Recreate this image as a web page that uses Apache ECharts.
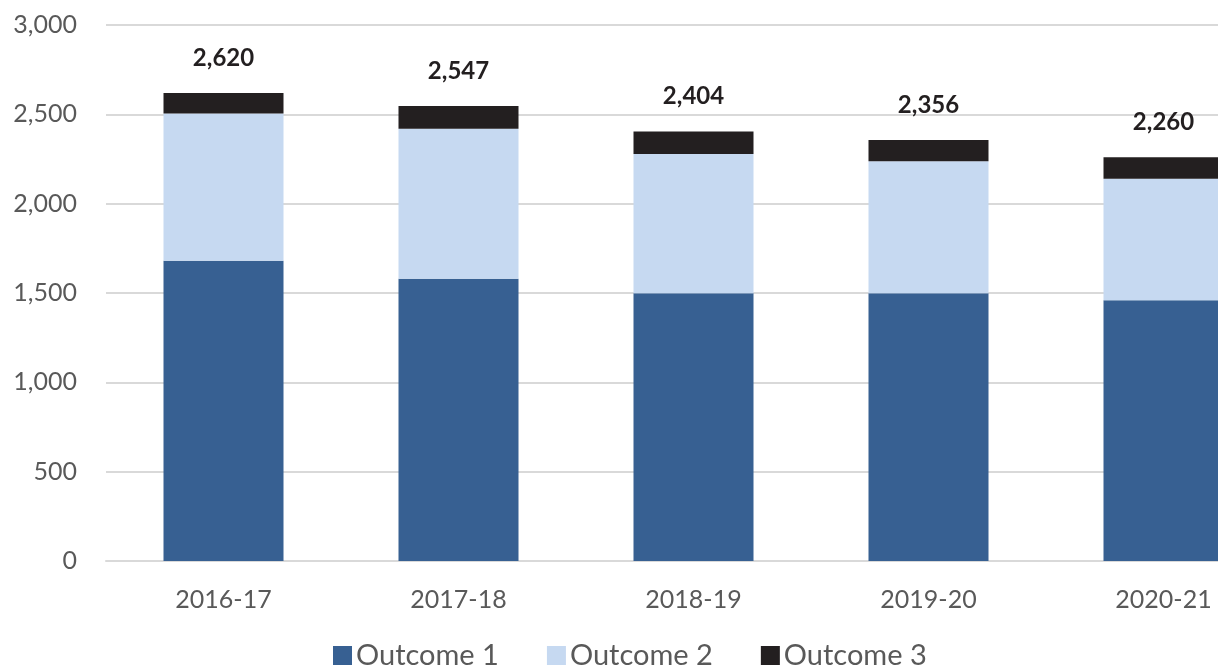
<!DOCTYPE html>
<html>
<head>
<meta charset="utf-8">
<script src="https://cdn.jsdelivr.net/npm/echarts@6/dist/echarts.min.js"></script>
<style>
html,body{margin:0;padding:0;background:#fff;}
#chart{width:1218px;height:668px;}
</style>
</head>
<body>
<div id="chart"></div>
<script>
const categories = ['2016-17','2017-18','2018-19','2019-20','2020-21'];
const outcome1 = [1680, 1580, 1498, 1498, 1460];
const outcome2 = [825, 840, 780, 740, 680];
const outcome3 = [115, 127, 126, 118, 120];
const totals = [2620, 2547, 2404, 2356, 2260];
const yTicks = [0, 500, 1000, 1500, 2000, 2500, 3000];

const FONT = 'Lato';
const chart = echarts.init(document.getElementById('chart'), null, {renderer:'canvas'});
const fmt = v => v.toLocaleString('en-US');

chart.setOption({
  animation:false,
  textStyle:{fontFamily:FONT},
  grid:{left:106, width:1175, top:25, height:536, containLabel:false, outerBoundsMode:'none'},
  legend:{
    top:641, left:333, padding:0, itemWidth:19, itemHeight:19, itemGap:48,
    textStyle:{fontFamily:FONT, fontSize:29, color:'#595959', padding:[0,0,0,-1]},
    icon:'rect',
    data:['Outcome 1','Outcome 2','Outcome 3']
  },
  xAxis:{
    type:'category', data:categories,
    axisLine:{show:true, lineStyle:{color:'#d9d9d9', width:2}},
    axisTick:{show:false},
    axisLabel:{fontFamily:FONT, fontSize:25, color:'#595959', margin:26}
  },
  yAxis:{
    type:'value', min:yTicks[0], max:yTicks[yTicks.length-1], interval:500,
    axisLine:{show:false}, axisTick:{show:false},
    splitLine:{lineStyle:{color:'#d9d9d9', width:2}},
    axisLabel:{fontFamily:FONT, fontSize:25, color:'#595959', margin:29, formatter:v=>fmt(v)}
  },
  series:[
    {name:'Outcome 1', type:'bar', stack:'a', data:outcome1, barWidth:120, itemStyle:{color:'#376092'}},
    {name:'Outcome 2', type:'bar', stack:'a', data:outcome2, itemStyle:{color:'#C6D9F1'}},
    {name:'Outcome 3', type:'bar', stack:'a', data:outcome3, itemStyle:{color:'#231F20'},
      label:{show:true, position:'top', distance:23, fontFamily:FONT, fontWeight:'bold', fontSize:24, color:'#231F20',
        formatter:p=>fmt(totals[p.dataIndex])}}
  ]
});
</script>
</body>
</html>
